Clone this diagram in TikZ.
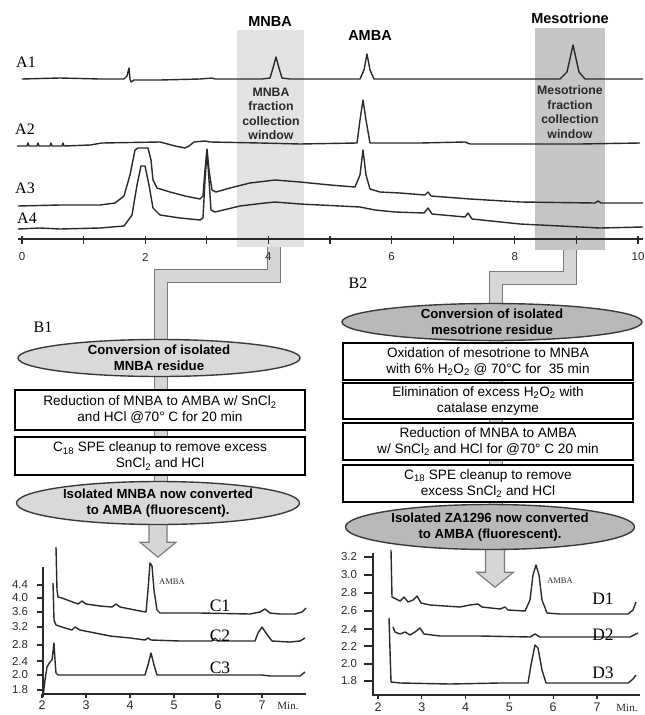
\documentclass[tikz,border=0pt]{standalone}
\usepackage{fontspec}
\setmainfont{Liberation Serif}
\setsansfont{Liberation Sans}
\usepackage{xcolor}
\usepackage{tikz}
\usetikzlibrary{shapes.geometric,backgrounds}
\definecolor{ink}{HTML}{2A2A2A}
\definecolor{edge}{HTML}{3A3A3A}
\definecolor{winlight}{HTML}{E3E3E3}
\definecolor{windark}{HTML}{C6C6C6}
\definecolor{ovallight}{HTML}{D9D9D9}
\definecolor{ovaldark}{HTML}{B9B9B9}
\definecolor{pipefill}{HTML}{D6D6D6}
\definecolor{pipeedge}{HTML}{7A7A7A}
\newcommand{\setpt}[2]{\fontsize{#1}{#2}\selectfont}
\tikzset{
  traceLine/.style={draw=ink, line width=1.4pt, line join=round},
  axisLine/.style={draw=ink, line width=1.2pt},
  winLight/.style={fill=winlight, draw=none, inner sep=0pt},
  winDark/.style={fill=windark, draw=none, inner sep=0pt},
  winText/.style={text=ink, font=\sffamily\bfseries\setpt{12.3}{14.5}, align=center},
  headLabel/.style={text=black, font=\sffamily\bfseries\setpt{14.5}{17}},
  runLabel/.style={text=black, font=\setpt{16}{18}},
  curveLabel/.style={text=black, font=\setpt{17.5}{19}},
  tickLabel/.style={text=ink, font=\sffamily\setpt{11.5}{13}},
  minLabel/.style={text=ink, font=\setpt{11}{13}},
  peakTag/.style={text=ink, font=\setpt{8.5}{10}},
  stepOval/.style={ellipse, draw=edge, line width=1.4pt, inner xsep=0pt, inner ysep=-8pt, align=center, font=\sffamily\bfseries\setpt{13.2}{16}},
  stepBox/.style={rectangle, draw=black, fill=white, line width=1.5pt, minimum width=290pt, inner sep=0pt, align=center, font=\sffamily\setpt{13.6}{16}},
  pipe/.style={draw=pipeedge, line width=1.4pt, double=pipefill, double distance=12pt, line join=miter},
  bigArrow/.style={fill=pipefill, draw=pipeedge, line width=1.1pt, line join=miter}
}

\begin{document}
\begin{tikzpicture}[x=1pt,y=-1pt]
  \useasboundingbox (0,0) rectangle (645,715);

  % fraction windows
  \node[winLight, minimum width=67pt, minimum height=217pt] (winMNBA) at (270.5,138.5) {};
  \node[winDark, minimum width=70pt, minimum height=222pt] (winMeso) at (570,139) {};
  \node[winText] (txtMNBA) at (271,114) {MNBA\\fraction\\collection\\window};
  \node[winText] (txtMeso) at (570,112) {Mesotrione\\fraction\\collection\\window};

  \node[headLabel] (hMNBA) at (270,22) {MNBA};
  \node[headLabel] (hAMBA) at (370,36) {AMBA};
  \node[headLabel] (hMeso) at (570,18) {Mesotrione};

  \node[runLabel] (rA1) at (26,62) {A1};
  \node[runLabel] (rA2) at (25,129) {A2};
  \node[runLabel] (rA3) at (25,188) {A3};
  \node[runLabel] (rA4) at (27,218) {A4};

  % top chromatograms
  \draw[traceLine] plot coordinates {(22,79) (60,78) (100,79) (124,79) (127,76) (129,68) (130,79) (131,82) (134,80) (160,80) (200,79) (212,78) (215,79) (262,79) (270,78) (273,68) (276,57) (279,68) (282,78) (290,79) (360,79) (364,70) (367,54) (370,70) (374,79) (440,79) (560,79) (567,72) (573,45) (579,72) (585,79) (643,79)};
  \draw[traceLine] plot coordinates {(17,146) (27,146) (28,143) (29,146) (37,146) (38,143) (39,146) (50,146) (51,143) (52,146) (62,146) (63,143) (64,146) (90,145) (102,143) (160,142) (175,146) (185,148) (189,146) (194,142) (205,141) (210,142) (260,143) (300,144) (357,143) (360,120) (363,100) (366,120) (370,143) (420,143) (465,142) (470,144) (580,144) (640,143)};
  \draw[traceLine] plot coordinates {(18,206) (60,205) (100,205) (115,203) (124,196) (130,175) (135,150) (138,148) (148,148) (151,160) (153,180) (157,188) (170,192) (185,196) (200,199) (203,196) (205,170) (207,149) (209,170) (212,190) (216,192) (230,188) (250,183) (275,180) (300,182) (330,185) (355,187) (360,175) (363,150) (366,175) (370,189) (380,192) (400,193) (425,195) (428,192) (431,196) (470,199) (520,202) (595,203) (598,201) (601,203) (643,203)};
  \draw[traceLine] plot coordinates {(18,229) (40,228) (60,229) (100,228) (124,226) (132,215) (137,185) (141,166) (145,166) (149,185) (153,208) (160,215) (180,218) (200,220) (203,218) (205,180) (207,152) (209,180) (211,210) (215,212) (240,206) (265,203) (275,202) (300,204) (340,206) (360,207) (375,210) (395,212) (424,213) (428,208) (432,214) (465,217) (468,213) (472,219) (520,224) (560,226) (600,228) (643,227)};

  % time axis
  \draw[axisLine] (18,239) -- (643,239);
  \foreach \t in {0,...,10}
    \draw[axisLine] ({22+61.6*\t},236) -- ({22+61.6*\t},244);
  \foreach \t in {0,2,...,10}
    \node[tickLabel] (tA\t) at ({22+61.6*\t},257) {\t};

  % transfer routes
  \coordinate (pA) at (274,246);
  \coordinate (qA) at (161,500);
  \coordinate (pB) at (570,249);
  \coordinate (qB) at (496,520);

  \node[runLabel] (rB1) at (43,327) {B1};
  \node[runLabel] (rB2) at (358,283) {B2};

  % MNBA route
  \node[stepOval, fill=ovallight, minimum width=282pt, minimum height=37pt] (convA) at (159,358) {Conversion of isolated\\MNBA residue};
  \node[stepBox, minimum height=40pt] (redA) at (160,410) {Reduction of MNBA to AMBA w/ SnCl\textsubscript{2}\\and HCl @70° C for 20 min};
  \node[stepBox, minimum height=38pt] (speA) at (160,456) {C\textsubscript{18} SPE cleanup to remove excess\\SnCl\textsubscript{2} and HCl};
  \node[stepOval, fill=ovallight, minimum width=283pt, minimum height=43pt] (finalA) at (158,503) {Isolated MNBA now converted\\to AMBA (fluorescent).};

  % mesotrione route
  \node[stepOval, fill=ovaldark, minimum width=300pt, minimum height=37pt] (convB) at (492,322) {Conversion of isolated\\mesotrione residue};
  \node[stepBox, minimum height=37pt] (oxB) at (488,361.5) {Oxidation of mesotrione to MNBA\\with 6\% H\textsubscript{2}O\textsubscript{2} @ 70°C for \ 35 min};
  \node[stepBox, minimum height=36pt] (elimB) at (488,401) {Elimination of excess H\textsubscript{2}O\textsubscript{2} with\\catalase enzyme};
  \node[stepBox, minimum height=37pt] (redB) at (488,441.5) {Reduction of MNBA to AMBA\\w/ SnCl\textsubscript{2} and HCl for @70° C 20 min};
  \node[stepBox, minimum height=37pt] (speB) at (488,483.5) {C\textsubscript{18} SPE cleanup to remove\\excess SnCl\textsubscript{2} and HCl};
  \node[stepOval, fill=ovaldark, minimum width=289pt, minimum height=45pt] (finalB) at (490,527) {Isolated ZA1296 now converted\\to AMBA (fluorescent).};

  \begin{scope}[on background layer]
    \draw[pipe] (pA) -- ++(0,30) -| (qA);
    \draw[pipe] (pB) -- ++(0,29) -| (qB);
    \draw[bigArrow] ([xshift=-9pt,yshift=3pt]finalA.south) -- ++(0,20) -- ++(-9,0) -- ++(18,15) -- ++(18,-15) -- ++(-9,0) -- ++(0,-20) -- cycle;
    \draw[bigArrow] ([xshift=-4.5pt,yshift=3pt]finalB.south) -- ++(0,25) -- ++(-9,0) -- ++(18.5,15) -- ++(18.5,-15) -- ++(-9,0) -- ++(0,-25) -- cycle;
  \end{scope}

  % C chromatograms
  \draw[axisLine] (43,567) -- (43,694) -- (306,694);
  \foreach \v/\y [count=\i] in {4.4/585,4.0/598,3.6/612,3.2/627,2.8/645,2.4/661,2.0/675,1.8/690} {
    \draw[axisLine] (37,\y) -- (43,\y);
    \node[tickLabel] (cy\i) at (20,\y) {\v};
  }
  \foreach \m in {2,...,7} {
    \draw[axisLine] ({42+44*(\m-2)},694) -- ++(0,4);
    \node[tickLabel, font=\sffamily\setpt{12.5}{14}] (cx\m) at ({42+44*(\m-2)},705) {\m};
  }
  \node[minLabel] (cMin) at (288,706) {Min.};

  \draw[traceLine] plot coordinates {(56,547) (57,590) (58,597) (62,598) (70,601) (78,604) (82,601) (86,604) (100,606) (112,607) (116,604) (120,607) (140,611) (146,612) (148,590) (150,563) (152,566) (154,590) (157,610) (160,613) (200,613) (250,614) (260,612) (265,609) (270,613) (280,614) (295,614) (302,612) (306,608)};
  \draw[traceLine] plot coordinates {(53,583) (54,620) (56,625) (65,628) (72,630) (75,627) (80,630) (95,633) (110,636) (130,638) (145,640) (148,638) (151,640) (180,641) (212,641) (215,638) (218,641) (255,641) (258,633) (262,627) (266,633) (272,641) (290,642) (300,641) (305,638)};
  \draw[traceLine] plot coordinates {(43,697) (45,680) (47,667) (50,662) (52,660) (54,643) (55,660) (56,673) (58,675) (100,675) (145,675) (148,665) (151,653) (154,665) (157,675) (200,675) (262,675) (270,676) (300,676) (305,672)};

  \node[peakTag] (tagC) at (172,582) {AMBA};
  \node[curveLabel] (lC1) at (220,606) {C1};
  \node[curveLabel] (lC2) at (220,636) {C2};
  \node[curveLabel] (lC3) at (220,668) {C3};

  % D chromatograms
  \draw[axisLine] (373,553) -- (373,695) -- (640,695);
  \foreach \v/\y [count=\i] in {3.2/557,3.0/575,2.8/593,2.6/611,2.4/629,2.2/646,2.0/664,1.8/681} {
    \draw[axisLine] (364,\y) -- (373,\y);
    \node[tickLabel] (dy\i) at (349,\y) {\v};
  }
  \foreach \m in {2,...,7} {
    \draw[axisLine] ({378+43.8*(\m-2)},695) -- ++(0,4);
    \node[tickLabel, font=\sffamily\setpt{12.5}{14}] (dx\m) at ({378+43.8*(\m-2)},707) {\m};
  }
  \node[minLabel] (dMin) at (627,708) {Min.};

  \draw[traceLine] plot coordinates {(391,550) (392,597) (396,599) (400,601) (404,597) (408,602) (413,600) (417,596) (421,603) (430,605) (445,606) (460,607) (470,605) (478,604) (482,607) (500,609) (505,607) (508,610) (525,611) (530,600) (533,575) (536,565) (539,575) (542,600) (547,613) (560,614) (600,614) (628,614) (633,610) (636,602)};
  \draw[traceLine] plot coordinates {(393,627) (395,632) (400,634) (405,632) (410,635) (415,632) (420,628) (424,634) (440,636) (480,636) (530,637) (535,634) (540,637) (600,637) (630,637) (638,633)};
  \draw[traceLine] plot coordinates {(389,618) (390,650) (391,682) (400,683) (450,684) (500,683) (528,683) (531,665) (535,645) (538,648) (542,670) (546,683) (600,683) (628,683) (633,679) (636,675)};

  \node[peakTag] (tagD) at (560,581) {AMBA};
  \node[curveLabel] (lD1) at (603,599) {D1};
  \node[curveLabel] (lD2) at (603,635) {D2};
  \node[curveLabel] (lD3) at (603,673) {D3};
\end{tikzpicture}
\end{document}
